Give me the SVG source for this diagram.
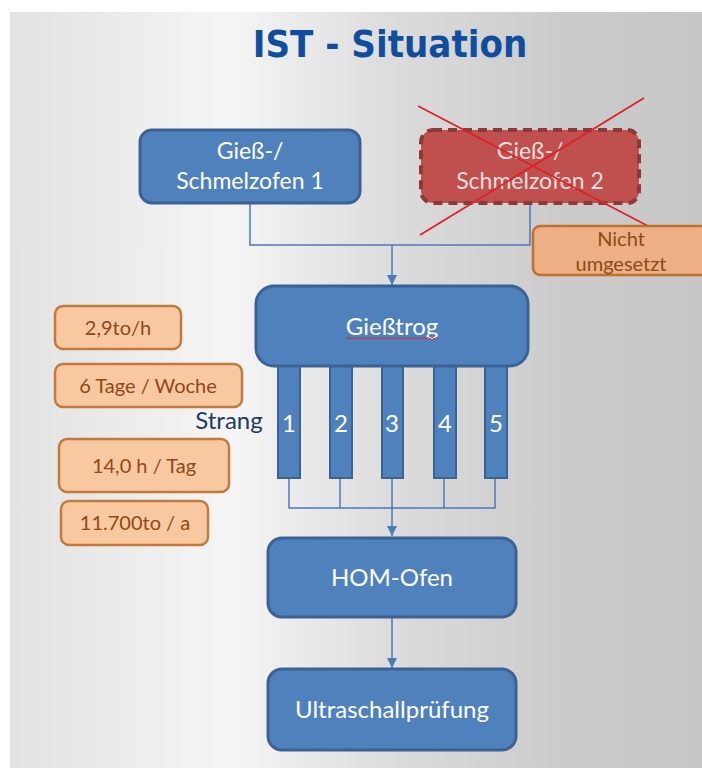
<svg xmlns="http://www.w3.org/2000/svg" width="702" height="769" viewBox="0 0 702 769">
<defs>
<linearGradient id="bg" x1="0" y1="0" x2="1" y2="0">
<stop offset="0" stop-color="#e2e2e2"/>
<stop offset="0.32" stop-color="#f5f5f5"/>
<stop offset="0.55" stop-color="#dcdcdc"/>
<stop offset="0.8" stop-color="#cbcbcb"/>
<stop offset="1" stop-color="#c7c7c7"/>
</linearGradient>
<marker id="arr" viewBox="0 0 10 10" refX="10" refY="5" markerWidth="10" markerHeight="10" markerUnits="userSpaceOnUse" orient="auto">
<path d="M0,0 L10,5 L0,10 z" fill="#4a7ab8"/>
</marker>
<style>
.blue{fill:#4f81bd;stroke:#3a6394;stroke-width:3}
.bar{fill:#4f81bd;stroke:#3a6394;stroke-width:2}
.red{fill:#c0504d;stroke:#8c3a38;stroke-width:4;stroke-dasharray:9 6}
.org{fill:#f8c8a0;stroke:#c47a3c;stroke-width:2.5}
.org2{fill:#ecb084;stroke:#c0702c;stroke-width:2.5}
.wt{font-family:Lato,"Liberation Sans",sans-serif;font-size:23px;fill:#ffffff;text-anchor:middle}
.wl{font-size:24px}
.ot{font-family:Lato,"Liberation Sans",sans-serif;font-size:20px;fill:#8e4a18;text-anchor:middle}
.con{fill:none;stroke:#4a7ab8;stroke-width:1.5}
</style>
</defs>
<rect x="0" y="0" width="702" height="769" fill="#ffffff"/>
<rect x="10" y="12" width="692" height="756" fill="url(#bg)"/>
<text x="390" y="57" font-family="'DejaVu Sans Condensed','DejaVu Sans',sans-serif" font-weight="bold" font-size="38" fill="#0f4e9e" text-anchor="middle">IST - Situation</text>

<g id="connectors">
<polyline class="con" points="250,203 250,245 530,245 530,203"/>
<line class="con" x1="392" y1="245" x2="392" y2="285" marker-end="url(#arr)"/>
<polyline class="con" points="289,478 289,508 495,508 495,478"/>
<line class="con" x1="340" y1="478" x2="340" y2="508"/>
<line class="con" x1="444" y1="478" x2="444" y2="508"/>
<line class="con" x1="392" y1="478" x2="392" y2="536" marker-end="url(#arr)"/>
<line class="con" x1="392" y1="617" x2="392" y2="668" marker-end="url(#arr)"/>
</g>

<g id="ofen1">
<rect class="blue" x="140" y="130" width="220" height="73" rx="12"/>
<text class="wt" x="250" y="159">Gieß-/</text>
<text class="wt" x="250" y="189">Schmelzofen 1</text>
</g>

<g id="ofen2">
<rect class="red" x="421" y="130" width="218" height="73" rx="12"/>
<text class="wt" x="530" y="159" style="fill:#f6dede">Gieß-/</text>
<text class="wt" x="530" y="189" style="fill:#f6dede">Schmelzofen 2</text>
<line x1="418" y1="106" x2="648" y2="226" stroke="#e0202a" stroke-width="1.8"/>
<line x1="420" y1="235" x2="644" y2="98" stroke="#e0202a" stroke-width="1.8"/>
</g>

<g id="nicht">
<rect class="org2" x="533" y="226" width="180" height="49" rx="7"/>
<text class="ot" x="621" y="246">Nicht</text>
<text class="ot" x="621" y="271">umgesetzt</text>
</g>

<g id="straenge">
<rect class="bar" x="278" y="360" width="22" height="118"/>
<rect class="bar" x="330" y="360" width="22" height="118"/>
<rect class="bar" x="382" y="360" width="21" height="118"/>
<rect class="bar" x="434" y="360" width="22" height="118"/>
<rect class="bar" x="485" y="360" width="22" height="118"/>
<text class="wt wl" x="289" y="432">1</text>
<text class="wt wl" x="341" y="432">2</text>
<text class="wt wl" x="392" y="432">3</text>
<text class="wt wl" x="445" y="432">4</text>
<text class="wt wl" x="496" y="432">5</text>
</g>

<g id="giesstrog">
<rect class="blue" x="256" y="286" width="272" height="80" rx="18"/>
<text class="wt wl" x="392" y="335">Gießtrog</text>
<path d="M346,339 l2,-1.5 l2,1.5 l2,-1.5 l2,1.5 l2,-1.5 l2,1.5 l2,-1.5 l2,1.5 l2,-1.5 l2,1.5 l2,-1.5 l2,1.5 l2,-1.5 l2,1.5 l2,-1.5 l2,1.5 l2,-1.5 l2,1.5 l2,-1.5 l2,1.5 l2,-1.5 l2,1.5 l2,-1.5 l2,1.5 l2,-1.5 l2,1.5 l2,-1.5 l2,1.5 l2,-1.5 l2,1.5 l2,-1.5 l2,1.5 l2,-1.5 l2,1.5 l2,-1.5 l2,1.5 l2,-1.5 l2,1.5 l2,-1.5 l2,1.5 l2,-1.5 l2,1.5 l2,-1.5 l2,1.5 l2,-1.5 l2,1.5" fill="none" stroke="#e02020" stroke-width="1"/>
</g>

<g id="strang-label">
<text x="229" y="429" font-family="Lato,'Liberation Sans',sans-serif" font-size="24" fill="#1f3b63" text-anchor="middle">Strang</text>
</g>

<g id="hom">
<rect class="blue" x="268" y="538" width="248" height="79" rx="14"/>
<text class="wt wl" x="392" y="586">HOM-Ofen</text>
</g>

<g id="ultra">
<rect class="blue" x="268" y="669" width="248" height="81" rx="14"/>
<text class="wt wl" x="392" y="718">Ultraschallprüfung</text>
</g>

<g id="info1">
<rect class="org" x="55" y="306" width="126" height="43" rx="8"/>
<text class="ot" x="118" y="335">2,9to/h</text>
</g>
<g id="info2">
<rect class="org" x="55" y="364" width="187" height="43" rx="8"/>
<text class="ot" x="148" y="393">6 Tage / Woche</text>
</g>
<g id="info3">
<rect class="org" x="59" y="439" width="170" height="53" rx="8"/>
<text class="ot" x="144" y="473">14,0 h / Tag</text>
</g>
<g id="info4">
<rect class="org" x="61" y="501" width="147" height="44" rx="8"/>
<text class="ot" x="135" y="530">11.700to / a</text>
</g>
</svg>
